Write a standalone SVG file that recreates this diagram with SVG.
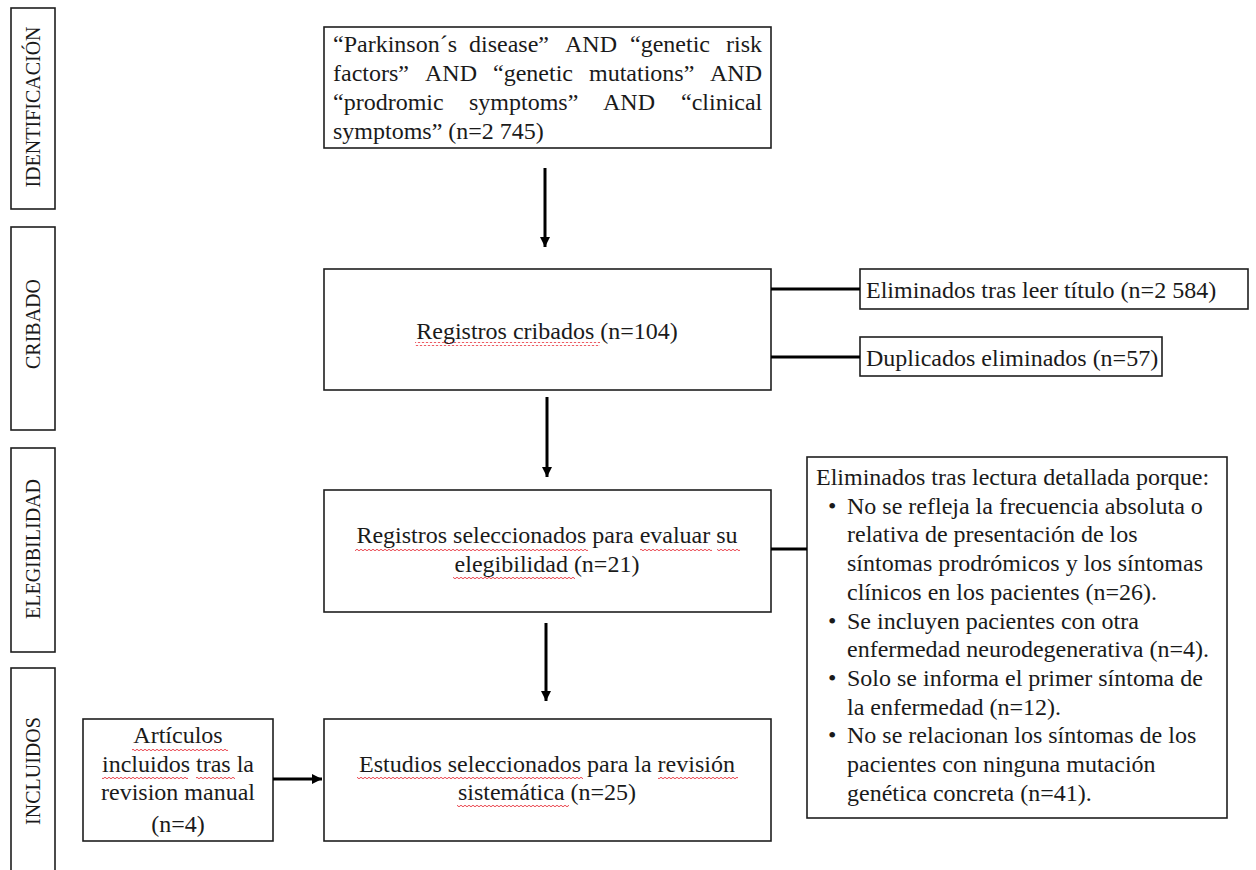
<svg xmlns="http://www.w3.org/2000/svg" width="1256" height="870" viewBox="0 0 1256 870">
<defs>
<style>
.box{fill:#fff;stroke:#1e1e1e;stroke-width:1.6}
.t{font-family:"Liberation Serif","Times New Roman",serif;font-size:24px;fill:#1a1a1a}
.lab{font-family:"Liberation Serif","Times New Roman",serif;font-size:20px;fill:#1a1a1a;text-anchor:middle}
.c{text-anchor:middle}
.ln{stroke:#000;stroke-width:3;fill:none}
.sq{fill:url(#wave)}
</style>
<pattern id="wave" width="4" height="4" patternUnits="userSpaceOnUse">
<path d="M0 2 Q1 0.5 2 2 T4 2" fill="none" stroke="#e8303a" stroke-width="0.9"/>
</pattern>
<marker id="ah" markerUnits="userSpaceOnUse" markerWidth="12" markerHeight="12" refX="10" refY="5" orient="auto">
<path d="M0 0 L10 5 L0 10 Z" fill="#000"/>
</marker>
</defs>
<rect width="1256" height="870" fill="#fff"/>

<g id="label-identificacion">
<rect class="box" x="11" y="8" width="44" height="201"/>
<text class="lab" transform="translate(40,107) rotate(-90)">IDENTIFICACIÓN</text>
</g>
<g id="label-cribado">
<rect class="box" x="11" y="227" width="44" height="203"/>
<text class="lab" transform="translate(40,324) rotate(-90)">CRIBADO</text>
</g>
<g id="label-elegibilidad">
<rect class="box" x="11" y="448" width="44" height="204"/>
<text class="lab" transform="translate(40,549) rotate(-90)">ELEGIBILIDAD</text>
</g>
<g id="label-incluidos">
<rect class="box" x="11" y="668" width="44" height="220"/>
<text class="lab" transform="translate(40,771) rotate(-90)">INCLUIDOS</text>
</g>

<g id="node-busqueda">
<rect class="box" x="324" y="27" width="447" height="121"/>
<text class="t" y="52"><tspan x="333">“Parkinson´s</tspan><tspan x="469">disease”</tspan><tspan x="565">AND</tspan><tspan x="630">“genetic</tspan><tspan x="726">risk</tspan></text>
<text class="t" y="81"><tspan x="333">factors”</tspan><tspan x="425">AND</tspan><tspan x="493">“genetic</tspan><tspan x="589">mutations”</tspan><tspan x="710">AND</tspan></text>
<text class="t" y="110"><tspan x="333">“prodromic</tspan><tspan x="469">symptoms”</tspan><tspan x="603">AND</tspan><tspan x="681">“clinical</tspan></text>
<text class="t" x="333" y="139">symptoms” (n=2 745)</text>
</g>

<g id="node-cribados">
<rect class="box" x="324" y="269" width="447" height="121"/>
<rect class="sq" x="415" y="342" width="185" height="4"/>
<text class="t c" x="547" y="339">Registros cribados (n=104)</text>
</g>

<g id="node-eliminados-titulo">
<rect class="box" x="860" y="269" width="388" height="40"/>
<text class="t" x="866" y="298">Eliminados tras leer título (n=2 584)</text>
</g>

<g id="node-duplicados">
<rect class="box" x="860" y="337" width="302" height="39"/>
<text class="t" x="866" y="366">Duplicados eliminados (n=57)</text>
</g>

<g id="node-seleccionados">
<rect class="box" x="324" y="490" width="447" height="122"/>
<rect class="sq" x="355" y="547" width="233" height="4"/>
<rect class="sq" x="640" y="547" width="72" height="4"/>
<rect class="sq" x="717" y="547" width="23" height="4"/>
<rect class="sq" x="453" y="576" width="122" height="4"/>
<text class="t c" x="547" y="543">Registros seleccionados para evaluar su</text>
<text class="t c" x="547" y="572">elegibilidad (n=21)</text>
</g>

<g id="node-eliminados-lectura">
<rect class="box" x="807" y="457" width="420" height="361"/>
<text class="t" x="816" y="485">Eliminados tras lectura detallada porque:</text>
<text class="t" x="828" y="513.7">•</text>
<text class="t" x="847" y="513.7">No se refleja la frecuencia absoluta o</text>
<text class="t" x="847" y="542.4">relativa de presentación de los</text>
<text class="t" x="847" y="571.1">síntomas prodrómicos y los síntomas</text>
<text class="t" x="847" y="599.8">clínicos en los pacientes (n=26).</text>
<text class="t" x="828" y="628.5">•</text>
<text class="t" x="847" y="628.5">Se incluyen pacientes con otra</text>
<text class="t" x="847" y="657.2">enfermedad neurodegenerativa (n=4).</text>
<text class="t" x="828" y="685.9">•</text>
<text class="t" x="847" y="685.9">Solo se informa el primer síntoma de</text>
<text class="t" x="847" y="714.6">la enfermedad (n=12).</text>
<text class="t" x="828" y="743.3">•</text>
<text class="t" x="847" y="743.3">No se relacionan los síntomas de los</text>
<text class="t" x="847" y="772">pacientes con ninguna mutación</text>
<text class="t" x="847" y="800.7">genética concreta (n=41).</text>
</g>

<g id="node-articulos">
<rect class="box" x="83" y="719" width="190" height="122"/>
<rect class="sq" x="132" y="747" width="96" height="4"/>
<rect class="sq" x="102" y="776" width="86" height="4"/>
<rect class="sq" x="196" y="776" width="39" height="4"/>
<text class="t c" x="178" y="743">Artículos</text>
<text class="t c" x="178" y="772">incluidos tras la</text>
<text class="t c" x="178" y="800">revision manual</text>
<text class="t c" x="178" y="832">(n=4)</text>
</g>

<g id="node-estudios">
<rect class="box" x="324" y="719" width="447" height="122"/>
<rect class="sq" x="357" y="776" width="226" height="4"/>
<rect class="sq" x="658" y="776" width="80" height="4"/>
<rect class="sq" x="457" y="805" width="112" height="4"/>
<text class="t c" x="547" y="772">Estudios seleccionados para la revisión</text>
<text class="t c" x="547" y="800">sistemática (n=25)</text>
</g>

<g id="connectors">
<line class="ln" x1="545" y1="168" x2="545" y2="247" marker-end="url(#ah)"/>
<line class="ln" x1="547" y1="397" x2="547" y2="477" marker-end="url(#ah)"/>
<line class="ln" x1="546" y1="623" x2="546" y2="701" marker-end="url(#ah)"/>
<line class="ln" x1="273" y1="779" x2="322" y2="779" marker-end="url(#ah)"/>
<line class="ln" x1="771" y1="289" x2="860" y2="289"/>
<line class="ln" x1="771" y1="357" x2="860" y2="357"/>
<line class="ln" x1="771" y1="549" x2="807" y2="549"/>
</g>
</svg>
